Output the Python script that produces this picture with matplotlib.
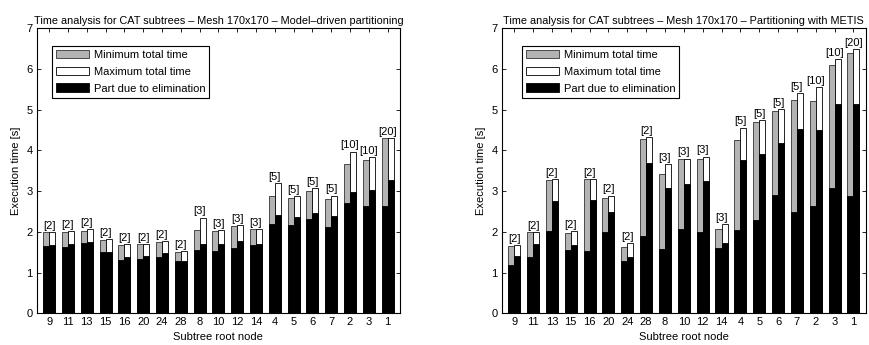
import numpy as np
import matplotlib.pyplot as plt
from matplotlib.patches import Patch

plt.rcParams['font.family'] = ['Liberation Sans', 'DejaVu Sans']
plt.rcParams['font.size'] = 8

nodes = ['9', '11', '13', '15', '16', '20', '24', '28', '8', '10', '12', '14',
         '4', '5', '6', '7', '2', '3', '1']
counts = ['[2]'] * 8 + ['[3]'] * 4 + ['[5]'] * 4 + ['[10]', '[10]', '[20]']

# model-driven partitioning
md_min_total = [2.00, 2.00, 2.03, 1.80, 1.67, 1.69, 1.76, 1.51, 2.05, 2.03, 2.14, 2.06,
                2.87, 2.82, 3.00, 2.81, 3.66, 3.76, 4.30]
md_min_elim = [1.65, 1.62, 1.72, 1.50, 1.32, 1.33, 1.38, 1.28, 1.55, 1.52, 1.60, 1.67,
               2.19, 2.16, 2.31, 2.12, 2.70, 2.63, 2.63]
md_max_total = [2.00, 2.01, 2.07, 1.82, 1.69, 1.69, 1.78, 1.52, 2.35, 2.05, 2.16, 2.06,
                3.19, 2.87, 3.08, 2.89, 3.97, 3.83, 4.31]
md_max_elim = [1.68, 1.69, 1.74, 1.51, 1.39, 1.41, 1.47, 1.29, 1.71, 1.70, 1.78, 1.71,
               2.42, 2.36, 2.47, 2.39, 2.98, 3.02, 3.27]

# METIS partitioning
mt_min_total = [1.65, 1.99, 3.27, 1.98, 3.29, 2.84, 1.62, 4.28, 3.41, 3.78, 3.78, 2.06,
                4.25, 4.70, 4.98, 5.25, 5.21, 6.10, 6.39]
mt_min_elim = [1.19, 1.38, 2.02, 1.56, 1.53, 2.00, 1.28, 1.89, 1.58, 2.08, 2.00, 1.60,
               2.05, 2.30, 2.90, 2.48, 2.63, 3.07, 2.89]
mt_max_total = [1.67, 2.00, 3.29, 2.02, 3.30, 2.89, 1.73, 4.33, 3.66, 3.80, 3.85, 2.19,
                4.56, 4.74, 5.01, 5.40, 5.56, 6.25, 6.49]
mt_max_elim = [1.40, 1.71, 2.75, 1.68, 2.79, 2.48, 1.37, 3.68, 3.08, 3.17, 3.25, 1.73,
               3.76, 3.92, 4.17, 4.53, 4.50, 5.14, 5.14]

GRAY = '#b3b3b3'
EDGE = '#333333'


def draw(ax, title, min_total, min_elim, max_total, max_elim, leg_x):
    x = np.arange(1, len(nodes) + 1)
    w = 0.32
    ax.bar(x - w / 2, min_total, w, color=GRAY, edgecolor=EDGE, linewidth=0.6)
    ax.bar(x - w / 2, min_elim, w, color='black', edgecolor='black', linewidth=0.6)
    ax.bar(x + w / 2, max_total, w, color='white', edgecolor='black', linewidth=0.6)
    ax.bar(x + w / 2, max_elim, w, color='black', edgecolor='black', linewidth=0.6)
    for xi, a, b, c in zip(x, min_total, max_total, counts):
        ax.text(xi, max(a, b) + 0.03, c, ha='center', va='bottom', fontsize=8)
    ax.set_xlim(0.35, 19.65)
    ax.set_ylim(0, 7)
    ax.set_xticks(x)
    ax.set_xticklabels(nodes)
    ax.set_yticks(range(8))
    ax.tick_params(direction='in', top=True, right=True, length=3, width=0.6, pad=3)
    for s in ax.spines.values():
        s.set_linewidth(0.8)
    ax.set_xlabel('Subtree root node', labelpad=3)
    ax.set_ylabel('Execution time [s]', labelpad=4)
    ax.set_title(title, fontsize=7.8, pad=3)
    handles = [Patch(facecolor=GRAY, edgecolor=EDGE, linewidth=0.6),
               Patch(facecolor='white', edgecolor='black', linewidth=0.6),
               Patch(facecolor='black', edgecolor='black', linewidth=0.6)]
    leg = ax.legend(handles, ['Minimum total time', 'Maximum total time',
                              'Part due to elimination'],
                    loc='upper left', bbox_to_anchor=(leg_x, 0.939), borderaxespad=0,
                    fancybox=False, edgecolor='black', framealpha=1,
                    handlelength=3.0, handleheight=0.85, labelspacing=0.6,
                    handletextpad=0.4, borderpad=0.35, fontsize=8)
    leg.get_frame().set_linewidth(0.8)


fig = plt.figure(figsize=(8.7, 3.45), dpi=100)
ax1 = fig.add_axes([0.0425, 0.092, 0.417, 0.826])
ax2 = fig.add_axes([0.577, 0.092, 0.418, 0.826])
draw(ax1, 'Time analysis for CAT subtrees \u2013 Mesh 170x170 \u2013 Model\u2013driven partitioning',
     md_min_total, md_min_elim, md_max_total, md_max_elim, 0.042)
draw(ax2, 'Time analysis for CAT subtrees \u2013 Mesh 170x170 \u2013 Partitioning with METIS',
     mt_min_total, mt_min_elim, mt_max_total, mt_max_elim, 0.055)
fig.savefig('out.png', dpi=100)
